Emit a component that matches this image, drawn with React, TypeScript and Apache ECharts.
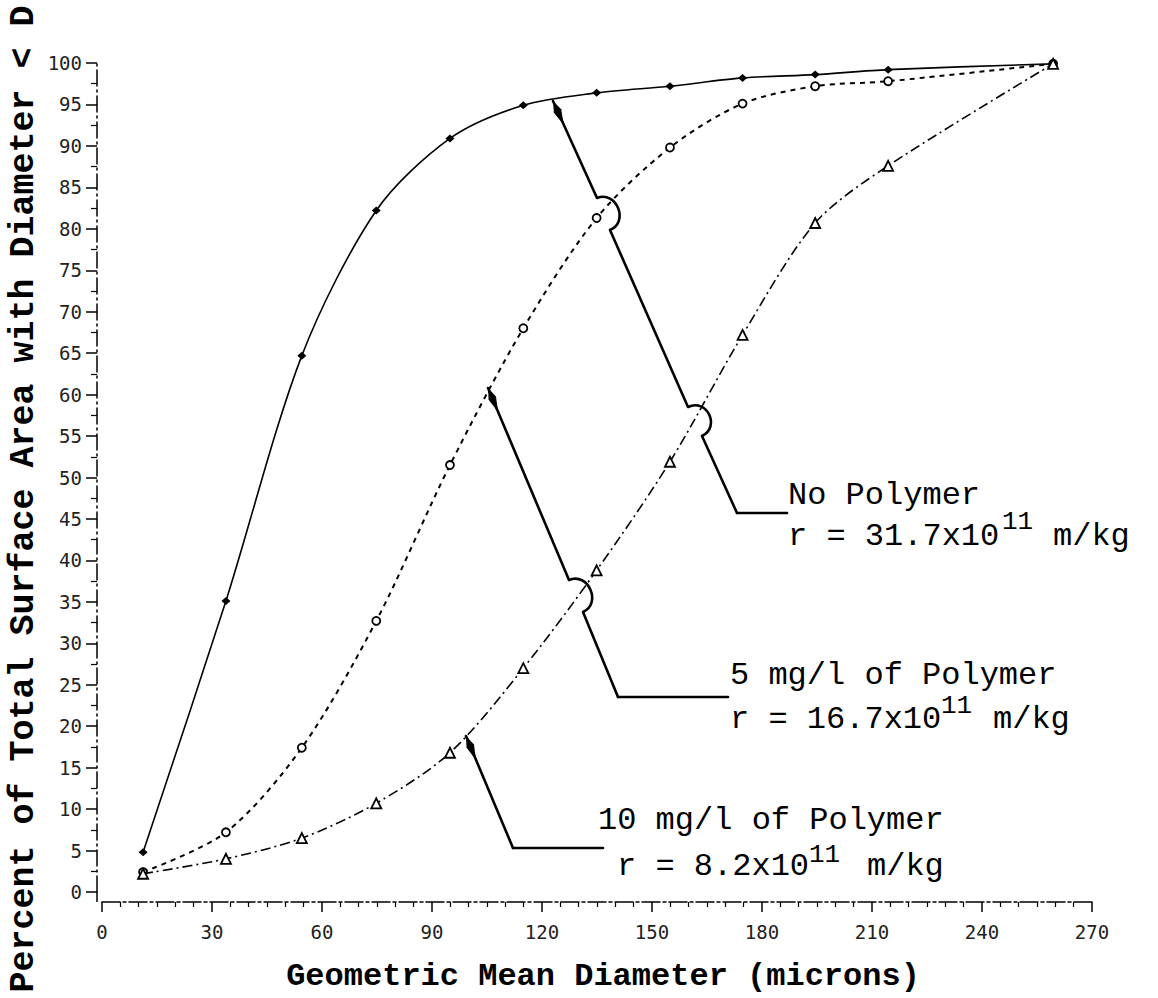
import React, { useEffect, useRef } from "react";
import * as echarts from "echarts";

// ---- data ----
const diameters = [11.2, 33.8, 54.5, 74.8, 94.9, 114.9, 134.9, 154.9, 174.7, 194.5, 214.4, 259.4];
const noPolymer = [4.8, 35.1, 64.7, 82.2, 90.9, 94.9, 96.4, 97.2, 98.2, 98.6, 99.2, 99.9];
const polymer5 = [2.4, 7.2, 17.4, 32.7, 51.5, 68.0, 81.3, 89.8, 95.1, 97.2, 97.8, 99.9];
const polymer10 = [2.2, 4.0, 6.5, 10.7, 16.8, 27.0, 38.8, 51.9, 67.2, 80.7, 87.6, 99.9];

const seriesNames = ["No Polymer", "5 mg/l of Polymer", "10 mg/l of Polymer"];
const rValues = ["r = 31.7x10", "r = 16.7x10", "r = 8.2x10"];
const exponentText = "11";
const unitText = "m/kg";
const xAxisTitle = "Geometric Mean Diameter (microns)";
const yAxisTitle = "Percent of Total Surface Area with Diameter < D";

// ---- annotation layout (pixels) ----
const MONO = "Liberation Mono";
const FS = 32;
const SUP_FS = 26;
const mid = (baseline: number, fs: number) => baseline - 0.2665 * fs;

const annoLayout = [
  { l1: [788, 504], l2: [788, 545], sup: [1002, 529], unit: [1053, 545],
    points: [[787, 513], [737, 513], [702, 436], [688, 407], [610, 230], [597, 198], [553, 101]], hops: [2, 4] },
  { l1: [730, 684], l2: [730, 728], sup: [941, 713], unit: [993, 728],
    points: [[728, 697], [618, 697], [583, 612], [569, 580], [488, 388]], hops: [2] },
  { l1: [598, 829], l2: [617, 875], sup: [809, 862], unit: [867, 875],
    points: [[603, 848], [513, 848], [466, 736]], hops: [] as number[] },
];

function buildGraphics() {
  const els: any[] = [];
  const LW = 2.6;
  annoLayout.forEach((a, k) => {
    const pts = a.points;
    for (let i = 0; i < pts.length - 1; i++) {
      const [x1, y1] = pts[i];
      const [x2, y2] = pts[i + 1];
      if (a.hops.includes(i)) {
        const dx = x2 - x1, dy = y2 - y1;
        const len = Math.hypot(dx, dy);
        const ux = dx / len, uy = dy / len;
        const nx = -uy, ny = ux;
        const b = 21;
        els.push({
          type: "bezierCurve",
          shape: { x1, y1, x2, y2, cpx1: x1 + nx * b, cpy1: y1 + ny * b, cpx2: x2 + nx * b, cpy2: y2 + ny * b },
          style: { stroke: "#000", lineWidth: LW, fill: null },
          z: 100,
        });
      } else {
        els.push({
          type: "line",
          shape: { x1, y1, x2, y2 },
          style: { stroke: "#000", lineWidth: LW, lineCap: "round" },
          z: 100,
        });
      }
    }
    // arrowhead
    const [tx, ty] = pts[pts.length - 1];
    const [px, py] = pts[pts.length - 2];
    const L = Math.hypot(px - tx, py - ty);
    const dx = (px - tx) / L, dy = (py - ty) / L;
    const nx = -dy, ny = dx;
    els.push({
      type: "polygon",
      shape: {
        points: [
          [tx, ty],
          [tx + dx * 11 + nx * 4, ty + dy * 11 + ny * 4],
          [tx + dx * 26, ty + dy * 26],
          [tx + dx * 11 - nx * 4, ty + dy * 11 - ny * 4],
        ],
      },
      style: { fill: "#000" },
      z: 101,
    });
    // texts
    const txt = (x: number, baseline: number, text: string, fs: number) => ({
      type: "text",
      x,
      y: mid(baseline, fs),
      style: { text, fontFamily: MONO, fontSize: fs, fill: "#000", align: "left", verticalAlign: "middle" },
      z: 102,
    });
    els.push(txt(a.l1[0], a.l1[1], seriesNames[k], FS));
    els.push(txt(a.l2[0], a.l2[1], rValues[k], FS));
    els.push(txt(a.sup[0], a.sup[1], exponentText, SUP_FS));
    els.push(txt(a.unit[0], a.unit[1], unitText, FS));
  });

  // axis titles
  els.push({
    type: "text",
    x: 603,
    y: 976,
    style: { text: xAxisTitle, fontFamily: MONO, fontSize: 32, fontWeight: "bold", fill: "#000", align: "center", verticalAlign: "middle" },
  });
  els.push({
    type: "text",
    x: 33 - 0.2665 * 35,
    y: 499,
    rotation: Math.PI / 2,
    style: { text: yAxisTitle, fontFamily: MONO, fontSize: 35, fontWeight: "bold", fill: "#000", align: "center", verticalAlign: "middle" },
  });
  // join y axis line down to x axis line
  els.push({
    type: "line",
    shape: { x1: 97, y1: 892, x2: 97, y2: 902 },
    style: { stroke: "#000", lineWidth: 1.5 },
  });
  return els;
}

export default function App() {
  const ref = useRef<HTMLDivElement>(null);
  useEffect(() => {
    if (!ref.current) return;
    const chart = echarts.init(ref.current, null, { renderer: "svg" });
    const tickFont = { fontFamily: "DejaVu Sans Mono", fontSize: 19, color: "#222" };
    const mk = (vals: number[]) => diameters.map((d, i) => [d, vals[i]]);
    chart.setOption({
      animation: false,
      backgroundColor: "#fff",
      grid: { left: 102, right: 66, top: 63, bottom: 106, containLabel: false },
      xAxis: {
        type: "value",
        min: 0,
        max: 270,
        interval: 30,
        offset: 10,
        axisLine: { show: true, onZero: false, lineStyle: { color: "#000", width: 1.5, type: [18, 3, 3, 3] } },
        axisTick: { show: true, length: 10, lineStyle: { color: "#000", width: 1.5 } },
        minorTick: { show: true, splitNumber: 6, length: 5, lineStyle: { color: "#000", width: 1.2 } },
        axisLabel: { ...tickFont, margin: 20 },
        splitLine: { show: false },
        minorSplitLine: { show: false },
      },
      yAxis: {
        type: "value",
        min: 0,
        max: 100,
        interval: 5,
        offset: 5,
        axisLine: { show: true, onZero: false, lineStyle: { color: "#000", width: 1.5, type: [16, 4, 2, 4] } },
        axisTick: { show: true, length: 11, lineStyle: { color: "#000", width: 1.5 } },
        minorTick: { show: true, splitNumber: 2, length: 6, lineStyle: { color: "#000", width: 1.2 } },
        axisLabel: { ...tickFont, margin: 15 },
        splitLine: { show: false },
        minorSplitLine: { show: false },
      },
      series: [
        {
          type: "line",
          name: seriesNames[0],
          data: mk(noPolymer),
          smooth: 0.3,
          symbol: "diamond",
          symbolSize: [9, 8],
          itemStyle: { color: "#000" },
          lineStyle: { color: "#000", width: 1.6, type: "solid" },
          z: 4,
        },
        {
          type: "line",
          name: seriesNames[1],
          data: mk(polymer5),
          smooth: 0.3,
          symbol: "circle",
          symbolSize: 8,
          itemStyle: { color: "#fff", borderColor: "#000", borderWidth: 1.8 },
          lineStyle: { color: "#000", width: 2, type: [5, 5] },
          z: 3,
        },
        {
          type: "line",
          name: seriesNames[2],
          data: mk(polymer10),
          smooth: 0.3,
          symbol: "triangle",
          symbolSize: 10,
          itemStyle: { color: "#fff", borderColor: "#000", borderWidth: 1.8 },
          lineStyle: { color: "#000", width: 1.6, type: [10, 4, 2, 4] },
          z: 5,
        },
      ],
      graphic: buildGraphics(),
    });
    return () => chart.dispose();
  }, []);
  return (
    <div
      ref={ref}
      style={{ position: "absolute", left: 0, top: 0, width: 1158, height: 998, background: "#fff" }}
    />
  );
}
